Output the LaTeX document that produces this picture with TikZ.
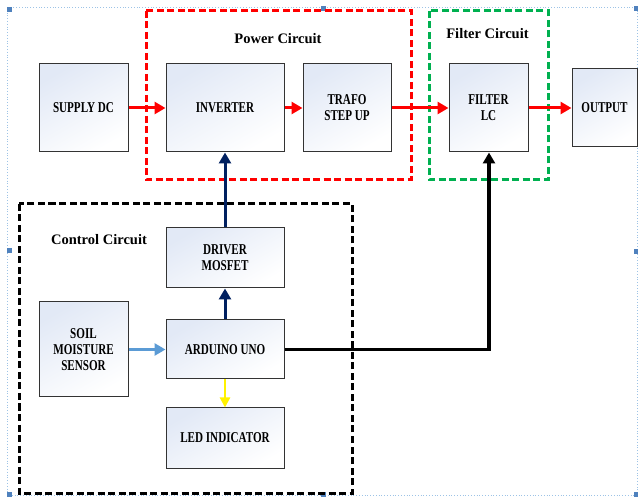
\documentclass[tikz,border=0pt]{standalone}
\usepackage{fontspec}
\setmainfont{Liberation Serif}
\newfontfamily\boxfont[FakeStretch=0.74]{Liberation Serif}
\usetikzlibrary{arrows.meta}
\definecolor{navy}{RGB}{0,32,96}
\definecolor{lblue}{RGB}{91,155,213}
\definecolor{pred}{RGB}{255,0,0}
\definecolor{pgreen}{RGB}{0,176,80}
\definecolor{selblue}{RGB}{157,195,230}
\definecolor{handle}{RGB}{79,129,189}
\definecolor{boxtop}{RGB}{226,233,246}
\tikzset{
  blk/.style={draw=black!80, line width=1pt, top color=boxtop, bottom color=white, shading angle=30,
    align=center, inner sep=0pt, font=\boxfont\bfseries\fontsize{15}{16}\selectfont},
  grp/.style={line width=3pt, dash pattern=on 7pt off 3.5pt},
  glabel/.style={font=\bfseries\fontsize{14.5}{16}\selectfont},
  redarrow/.style={draw=pred, line width=3pt, -{Triangle[length=11pt,width=12pt]}},
  navyarrow/.style={draw=navy, line width=3pt, -{Triangle[length=11pt,width=12pt]}},
  hdl/.style={fill=handle, draw=none, minimum size=5pt, inner sep=0pt}
}
\begin{document}
\begin{tikzpicture}[x=1pt,y=-1pt]
\useasboundingbox (0,0) rectangle (638,497);
% selection frame
\draw[selblue, line width=0.8pt, dotted] (7,7) rectangle (637,495);
\foreach \p [count=\i] in {(9,10),(323,9),(636,9),(9,251),(636,252),(9,494),(323,494),(636,494)}
  \node[hdl] (h\i) at \p {};
% group frames
\draw[grp, draw=pred] (146,11) rectangle (411,180);
\draw[grp, draw=pgreen] (429,11) rectangle (548,180);
\draw[grp, draw=black] (19,204) rectangle (352,493);
\node[glabel] (lpower) at (278,39) {Power Circuit};
\node[glabel] (lfilter) at (487.5,34) {Filter Circuit};
\node[glabel] (lcontrol) at (99,240) {Control Circuit};
% blocks
\node[blk, minimum width=89pt, minimum height=88pt] (supply) at (83.5,108) {SUPPLY DC};
\node[blk, minimum width=118pt, minimum height=88pt] (inverter) at (225,108) {INVERTER};
\node[blk, minimum width=88pt, minimum height=88pt] (trafo) at (347,108) {TRAFO\\STEP UP};
\node[blk, minimum width=79pt, minimum height=88pt] (filter) at (488.5,108) {FILTER\\LC};
\node[blk, minimum width=65pt, minimum height=78pt] (output) at (604.5,108) {OUTPUT};
\node[blk, minimum width=118pt, minimum height=60pt] (driver) at (225,258) {DRIVER\\MOSFET};
\node[blk, minimum width=89pt, minimum height=95pt] (soil) at (83.5,349.5) {SOIL\\MOISTURE\\SENSOR};
\node[blk, minimum width=118pt, minimum height=59pt] (arduino) at (225,349.5) {ARDUINO UNO};
\node[blk, minimum width=118pt, minimum height=60pt] (led) at (225,438) {LED INDICATOR};
% connectors
\draw[redarrow] (supply) -- (inverter);
\draw[redarrow] (inverter) -- (trafo);
\draw[redarrow] (trafo) -- (filter);
\draw[redarrow] (filter) -- (output);
\draw[navyarrow] (driver) -- (inverter);
\draw[navyarrow] (arduino) -- (driver);
\draw[draw=lblue, line width=3pt, -{Triangle[length=11pt,width=12pt]}] (soil.east |- arduino.west) -- (arduino.west);
\draw[draw=yellow, line width=2.2pt, -{Triangle[length=10pt,width=10pt]}] (arduino) -- (led);
\coordinate (corner) at (489,349.5);
\draw[black, line width=3.5pt, -{Triangle[length=11pt,width=12pt]}] (arduino.east) -- (corner) -- (filter.south -| corner);
\end{tikzpicture}
\end{document}
